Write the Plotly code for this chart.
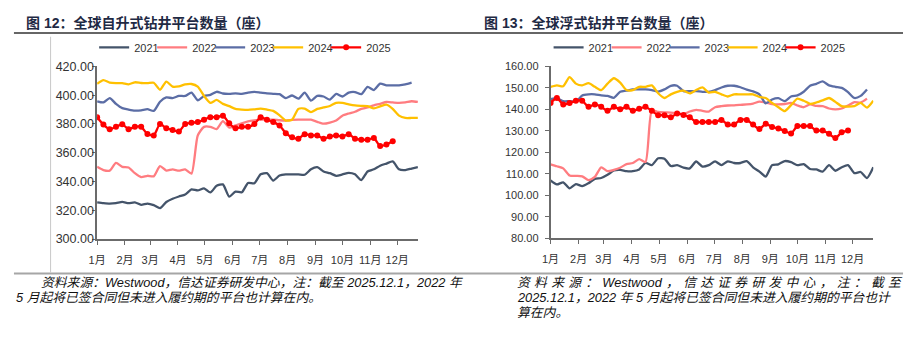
import pandas as pd
import plotly.graph_objects as go

W, H = 906, 341

years = ["2021", "2022", "2023", "2024", "2025"]
colors = ["#44546A", "#FF7C80", "#5B6DA5", "#FFC000", "#FF0000"]
month_labels = [f"{m}月" for m in range(1, 13)]
month_starts = [f"2025-{m:02d}-01" for m in range(1, 13)]

# 全球自升式钻井平台数量（座），按周
jackup_2021 = [325.5, 325.0, 324.7, 325.0, 325.8, 325.0, 325.5, 323.8, 324.7, 323.6,
               321.5, 325.8, 328.0, 329.6, 331.0, 334.5, 333.8, 335.3, 332.4, 337.0,
               338.0, 329.5, 333.0, 332.5, 339.0, 338.8, 345.0, 345.8, 340.7, 344.2,
               345.0, 345.0, 345.0, 344.7, 348.5, 350.0, 347.0, 345.8, 344.0, 344.9,
               346.0, 345.0, 341.0, 347.0, 348.5, 351.0, 352.5, 354.0, 348.5, 348.0,
               349.0, 350.0]
jackup_2022 = [350.2, 348.0, 347.6, 352.9, 350.2, 349.8, 345.8, 343.1, 344.0, 343.6,
               350.7, 347.6, 348.4, 347.6, 348.4, 345.5, 372.0, 378.0, 378.0, 376.5,
               382.0, 377.5, 379.0, 380.5, 381.8, 382.5, 383.0, 383.0, 383.0, 382.6,
               382.4, 382.8, 383.0, 383.0, 383.0, 381.5, 380.2, 381.0, 382.5, 385.8,
               387.3, 388.5, 390.5, 391.5, 393.0, 394.0, 395.3, 395.0, 394.7, 395.0,
               395.8, 395.3]
jackup_2023 = [395.8, 395.0, 398.0, 394.0, 391.0, 390.0, 389.3, 389.5, 390.3, 389.1,
               395.5, 398.5, 398.0, 399.5, 399.5, 401.8, 396.5, 399.5, 400.2, 402.4,
               401.2, 401.0, 401.3, 400.9, 401.8, 402.3, 401.8, 401.3, 401.0, 400.7,
               398.0, 399.8, 397.6, 401.8, 396.2, 399.5, 399.1, 396.9, 400.9, 399.1,
               401.8, 402.2, 400.7, 405.8, 403.6, 408.0, 406.9, 406.9, 406.9, 407.5,
               408.7]
jackup_2024 = [408.0, 410.5, 408.8, 408.4, 408.4, 407.6, 409.0, 408.5, 408.4, 408.7,
               403.8, 409.5, 406.0, 406.2, 407.5, 407.8, 406.0, 399.5, 394.7, 396.7,
               394.0, 392.4, 390.5, 390.0, 389.8, 390.2, 390.7, 390.0, 389.1, 386.0,
               382.4, 383.0, 390.5, 390.7, 388.2, 390.5, 391.5, 392.5, 394.7, 394.7,
               393.7, 392.9, 392.6, 392.4, 390.8, 392.2, 393.5, 390.5, 385.8, 384.2,
               384.2, 384.2]
jackup_2025 = [384.7, 379.6, 376.4, 378.0, 379.8, 376.4, 378.0, 378.0, 373.0, 372.0,
               380.0, 377.0, 375.8, 374.7, 380.0, 380.9, 381.3, 383.0, 384.7, 384.7,
               385.8, 380.5, 377.0, 378.0, 378.0, 380.0, 384.7, 383.0, 381.3, 379.0,
               373.6, 370.7, 369.8, 372.9, 372.0, 372.0, 369.8, 371.3, 372.0, 371.3,
               372.9, 369.8, 369.1, 369.1, 370.2, 364.7, 365.8, 368.0]

# 全球浮式钻井平台数量（座），按周
floater_2021 = [106.9, 105.0, 106.0, 103.2, 105.2, 104.2, 105.6, 107.6, 108.0, 109.5,
                111.5, 111.8, 111.2, 111.2, 112.0, 115.0, 114.0, 117.2, 117.0, 113.6,
                114.0, 112.8, 112.5, 115.7, 113.3, 114.0, 115.8, 114.0, 115.8, 115.0,
                115.0, 115.9, 113.0, 111.0, 108.7, 114.0, 114.4, 115.9, 115.4, 114.0,
                114.5, 112.2, 112.0, 111.0, 114.0, 111.4, 113.0, 114.0, 110.3, 110.8,
                108.0, 113.0]
floater_2022 = [114.4, 113.5, 112.5, 109.2, 109.0, 108.8, 107.0, 108.5, 113.0, 111.2,
                111.8, 112.8, 114.5, 115.0, 116.8, 115.5, 139.5, 138.8, 138.6, 138.5,
                138.2, 137.8, 139.0, 139.8, 139.3, 139.0, 141.0, 141.5, 141.8, 141.9,
                142.1, 142.3, 142.7, 143.6, 143.2, 142.4, 142.3, 142.5, 143.0, 141.8,
                141.0, 142.3, 141.6, 141.5, 140.4, 140.0, 140.4, 141.8, 143.4, 143.2,
                145.0]
floater_2023 = [144.8, 145.2, 143.8, 143.8, 143.5, 146.5, 147.0, 147.0, 146.5, 146.3,
                145.4, 148.2, 148.7, 149.3, 149.3, 149.3, 149.0, 148.3, 149.3, 151.0,
                151.0, 148.5, 148.5, 148.5, 148.2, 148.2, 149.0, 150.2, 151.0, 151.0,
                150.3, 149.2, 148.4, 147.0, 142.8, 144.6, 145.2, 143.8, 146.0, 146.5,
                148.2, 151.0, 151.9, 153.0, 151.2, 150.5, 150.0, 148.0, 145.3, 146.3,
                149.3]
floater_2024 = [150.5, 151.2, 150.8, 155.0, 152.0, 151.2, 152.2, 150.5, 149.0, 152.0,
                154.5, 152.5, 149.0, 149.0, 150.5, 150.5, 151.2, 147.5, 145.3, 147.0,
                148.2, 148.7, 147.5, 149.0, 150.2, 147.8, 148.2, 147.0, 146.0, 147.0,
                147.0, 147.0, 147.0, 145.8, 145.3, 143.0, 141.0, 139.2, 142.0, 145.0,
                144.0, 142.6, 143.2, 144.2, 145.3, 143.5, 141.5, 141.3, 141.5, 143.0,
                140.8, 144.0]
floater_2025 = [143.0, 145.3, 142.3, 143.0, 144.0, 144.0, 141.2, 142.3, 141.2, 139.3,
                141.2, 140.0, 141.2, 139.3, 140.3, 141.2, 139.3, 137.3, 137.3, 136.3,
                138.1, 137.4, 136.3, 134.1, 134.1, 134.1, 134.1, 135.1, 132.9, 132.9,
                135.1, 135.1, 132.9, 130.8, 133.3, 131.8, 131.1, 129.9, 128.8, 132.2,
                132.2, 132.2, 130.1, 130.1, 128.6, 126.6, 129.3, 130.1]

jackup = [jackup_2021, jackup_2022, jackup_2023, jackup_2024, jackup_2025]
floater = [floater_2021, floater_2022, floater_2023, floater_2024, floater_2025]


def weeks(n):
    return pd.date_range("2025-01-01", periods=n, freq="7D")


def px_x(p):
    return p / W


def px_y(p):
    return 1 - p / H


fig = go.Figure()

for series, xa, ya, lg in [(jackup, "x", "y", "legend"), (floater, "x2", "y2", "legend2")]:
    for yr, col, vals in zip(years, colors, series):
        is25 = yr == "2025"
        fig.add_trace(go.Scatter(
            x=weeks(len(vals)), y=vals, name=yr,
            mode="lines+markers" if is25 else "lines",
            line=dict(color=col, width=2.3, shape="spline", smoothing=0.6),
            marker=dict(size=6, color=col, symbol="circle") if is25 else None,
            xaxis=xa, yaxis=ya, legend=lg, hoverinfo="skip",
        ))
    # empty spacer entry so the last legend label is not clipped
    fig.add_trace(go.Scatter(x=[None], y=[None], name=" ", mode="lines",
                             line=dict(color="rgba(0,0,0,0)", width=0),
                             xaxis=xa, yaxis=ya, legend=lg, hoverinfo="skip"))

axis_color = "#6b6b6b"
font_main = "Liberation Sans, Arial, Noto Sans CJK SC, sans-serif"
xcommon = dict(type="date", range=["2025-01-01", "2025-12-24"],
               tickvals=month_starts, ticktext=month_labels,
               showline=True, linecolor=axis_color, linewidth=1.5,
               ticks="outside", ticklen=4, tickcolor=axis_color, tickwidth=1,
               ticklabelstandoff=6,
               showgrid=False, zeroline=False,
               tickfont=dict(size=11, color="#333333", family=font_main))

legend_common = dict(orientation="h", xanchor="left", y=px_y(42), yanchor="middle",
                     entrywidth=13, entrywidthmode="pixels", itemwidth=30,
                     font=dict(size=11, color="#333333"), bgcolor="rgba(0,0,0,0)",
                     borderwidth=0, traceorder="normal")

fig.update_layout(
    width=W, height=H,
    margin=dict(l=0, r=0, t=0, b=0),
    paper_bgcolor="white", plot_bgcolor="white",
    font=dict(family=font_main, color="#333333"),
    showlegend=True,
    xaxis=dict(domain=[px_x(89), px_x(413)], anchor="y", **xcommon),
    yaxis=dict(domain=[px_y(242), px_y(62)], anchor="x", range=[300, 420], dtick=20,
               tickformat=".2f", showline=True, linecolor=axis_color, linewidth=1.5,
               ticks="outside", ticklen=3, tickcolor=axis_color, showgrid=False,
               zeroline=False, ticklabelstandoff=-4,
               tickfont=dict(size=12.5, color="#333333", family=font_main)),
    xaxis2=dict(domain=[px_x(547), px_x(873)], anchor="y2", **xcommon),
    yaxis2=dict(domain=[px_y(241), px_y(62)], anchor="x2", range=[80, 160], dtick=10,
                tickformat=".2f", showline=True, linecolor=axis_color, linewidth=1.5,
                ticks="outside", ticklen=4, tickcolor=axis_color, showgrid=False,
                zeroline=False, ticklabelstandoff=4,
                tickfont=dict(size=11, color="#333333", family=font_main)),
    legend=dict(x=px_x(86), **legend_common),
    legend2=dict(x=px_x(545), **legend_common),
)

# frame lines
fig.add_shape(type="line", xref="paper", yref="paper", x0=px_x(5), x1=px_x(903),
              y0=px_y(27), y1=px_y(27), line=dict(color="#333333", width=1.5))
fig.add_shape(type="line", xref="paper", yref="paper", x0=px_x(5), x1=px_x(903),
              y0=px_y(278), y1=px_y(278), line=dict(color="#a6a6a6", width=2))
fig.add_shape(type="line", xref="paper", yref="paper", x0=px_x(42), x1=px_x(42),
              y0=px_y(31), y1=px_y(277), line=dict(color="#c8c8c8", width=1))

title_font = dict(family="Liberation Sans, Noto Sans CJK SC, sans-serif", size=14, color="#1f2a44")
fig.add_annotation(text="<b>图 12：全球自升式钻井平台数量（座）</b>", xref="paper", yref="paper",
                   x=px_x(15), y=px_y(17), xanchor="left", yanchor="middle",
                   showarrow=False, font=title_font)
fig.add_annotation(text="<b>图 13：全球浮式钻井平台数量（座）</b>", xref="paper", yref="paper",
                   x=px_x(478), y=px_y(17), xanchor="left", yanchor="middle",
                   showarrow=False, font=title_font)

note_font = dict(family="Liberation Sans, Noto Sans CJK SC, sans-serif", size=12.8, color="#111111")
sp = "\u2004"
notes = [
    ("资料来源：Westwood，信达证券研发中心，注：截至 2025.12.1，2022 年", 30, 287),
    ("5 月起将已签合同但未进入履约期的平台也计算在内。", 5, 303),
    (sp.join(["资", "料", "来", "源", "：", "Westwood", "，", "信", "达", "证", "券", "研", "发",
              "中", "心", "，", "注", "：", "截", "至"]), 511, 287),
    ("2025.12.1，2022 年 5 月起将已签合同但未进入履约期的平台也计", 511, 303),
    ("算在内。", 511, 319),
]
for txt, xx, yy in notes:
    fig.add_annotation(text=f"<i>{txt}</i>", xref="paper", yref="paper",
                       x=px_x(xx), y=px_y(yy), xanchor="left", yanchor="middle",
                       showarrow=False, font=note_font)

fig.write_html("out.html")
